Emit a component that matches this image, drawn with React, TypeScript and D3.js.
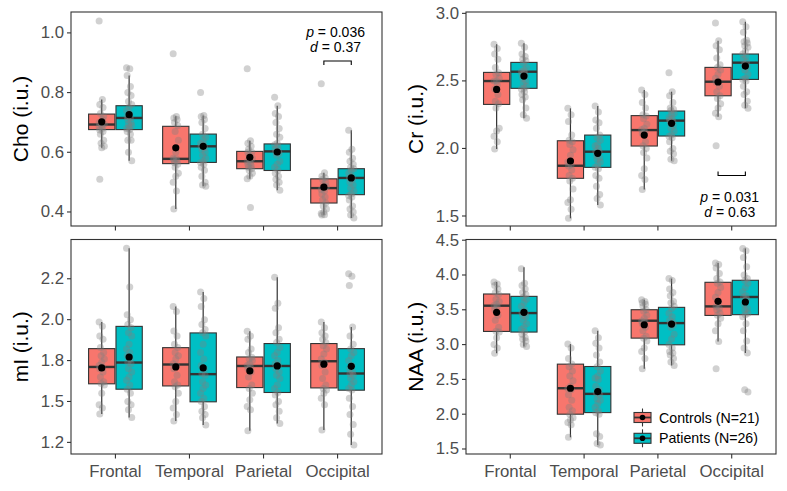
import React from "react";
import * as d3 from "d3";

const regions = ["Frontal", "Temporal", "Parietal", "Occipital"];
const groups = ["Controls (N=21)", "Patients (N=26)"];
const groupColors = ["#F8766D", "#00BFC4"];

// stats per region: [lowerWhisker, q1, median, q3, upperWhisker, mean]
const choControls = [
  [0.615, 0.676, 0.693, 0.728, 0.777, 0.702],
  [0.41, 0.562, 0.578, 0.687, 0.721, 0.615],
  [0.511, 0.545, 0.57, 0.603, 0.639, 0.583],
  [0.391, 0.43, 0.48, 0.511, 0.531, 0.483],
];
const choPatients = [
  [0.572, 0.676, 0.715, 0.756, 0.857, 0.726],
  [0.486, 0.566, 0.62, 0.661, 0.723, 0.62],
  [0.473, 0.539, 0.603, 0.628, 0.756, 0.601],
  [0.38, 0.458, 0.514, 0.545, 0.674, 0.514],
];
const crControls = [
  [1.996, 2.326, 2.499, 2.563, 2.771, 2.437],
  [1.483, 1.779, 1.872, 2.057, 2.297, 1.907],
  [1.697, 2.018, 2.136, 2.243, 2.432, 2.099],
  [2.235, 2.39, 2.494, 2.6, 2.798, 2.492],
];
const crPatients = [
  [2.223, 2.445, 2.568, 2.637, 2.778, 2.536],
  [1.581, 1.86, 1.976, 2.099, 2.314, 1.964],
  [1.909, 2.092, 2.206, 2.277, 2.42, 2.186],
  [2.297, 2.511, 2.635, 2.699, 2.938, 2.61],
];
const miControls = [
  [1.423, 1.608, 1.711, 1.823, 1.986, 1.705],
  [1.38, 1.595, 1.726, 1.829, 2.081, 1.711],
  [1.321, 1.585, 1.717, 1.772, 1.929, 1.687],
  [1.325, 1.583, 1.746, 1.854, 1.986, 1.728],
];
const miPatients = [
  [1.402, 1.575, 1.738, 1.959, 2.437, 1.772],
  [1.356, 1.498, 1.667, 1.919, 2.169, 1.705],
  [1.366, 1.555, 1.717, 1.854, 2.26, 1.717],
  [1.234, 1.569, 1.671, 1.823, 1.955, 1.715],
];
const naaControls = [
  [2.877, 3.189, 3.559, 3.727, 3.9, 3.463],
  [1.668, 2.0, 2.373, 2.719, 3.007, 2.373],
  [2.652, 3.093, 3.343, 3.501, 3.645, 3.285],
  [3.045, 3.419, 3.549, 3.895, 4.174, 3.621],
];
const naaPatients = [
  [2.973, 3.18, 3.453, 3.693, 4.111, 3.463],
  [1.557, 2.023, 2.292, 2.685, 3.199, 2.325],
  [2.7, 2.997, 3.309, 3.535, 3.948, 3.295],
  [2.878, 3.43, 3.684, 3.924, 4.38, 3.612],
];

// individual subject values per region
const choControlsPts = [
  [1.04, 0.777, 0.76, 0.75, 0.73, 0.72, 0.7, 0.695, 0.69, 0.685, 0.68, 0.675, 0.67, 0.66, 0.64, 0.63, 0.62, 0.615, 0.7, 0.71, 0.51],
  [0.93, 0.72, 0.715, 0.71, 0.7, 0.69, 0.67, 0.64, 0.6, 0.58, 0.578, 0.575, 0.57, 0.565, 0.56, 0.55, 0.53, 0.52, 0.5, 0.47, 0.41],
  [0.88, 0.639, 0.63, 0.62, 0.61, 0.6, 0.59, 0.58, 0.575, 0.57, 0.565, 0.56, 0.555, 0.55, 0.545, 0.54, 0.53, 0.52, 0.511, 0.415, 0.6],
  [0.83, 0.531, 0.52, 0.515, 0.51, 0.5, 0.49, 0.485, 0.48, 0.475, 0.47, 0.46, 0.45, 0.44, 0.43, 0.42, 0.41, 0.4, 0.395, 0.391, 0.39],
];
const choPatientsPts = [
  [0.883, 0.88, 0.857, 0.82, 0.8, 0.79, 0.77, 0.76, 0.75, 0.74, 0.73, 0.72, 0.715, 0.71, 0.7, 0.695, 0.69, 0.685, 0.68, 0.676, 0.67, 0.66, 0.64, 0.64, 0.6, 0.572],
  [0.8, 0.723, 0.72, 0.71, 0.7, 0.68, 0.66, 0.65, 0.64, 0.63, 0.625, 0.62, 0.615, 0.61, 0.6, 0.59, 0.58, 0.57, 0.566, 0.56, 0.55, 0.54, 0.52, 0.5, 0.49, 0.486],
  [0.784, 0.756, 0.73, 0.72, 0.7, 0.68, 0.66, 0.65, 0.63, 0.625, 0.62, 0.61, 0.605, 0.6, 0.595, 0.59, 0.57, 0.56, 0.55, 0.54, 0.53, 0.52, 0.51, 0.5, 0.49, 0.473],
  [0.674, 0.61, 0.6, 0.58, 0.57, 0.56, 0.55, 0.545, 0.54, 0.53, 0.52, 0.515, 0.51, 0.5, 0.49, 0.48, 0.47, 0.46, 0.455, 0.45, 0.44, 0.42, 0.41, 0.4, 0.39, 0.38],
];
const crControlsPts = [
  [2.771, 2.74, 2.7, 2.66, 2.6, 2.56, 2.55, 2.52, 2.5, 2.5, 2.47, 2.44, 2.4, 2.35, 2.33, 2.3, 2.15, 2.13, 2.09, 2.05, 1.996],
  [2.297, 2.25, 2.2, 2.1, 2.06, 2.05, 2.03, 1.99, 1.95, 1.9, 1.88, 1.87, 1.84, 1.8, 1.78, 1.76, 1.7, 1.62, 1.6, 1.55, 1.483],
  [2.432, 2.4, 2.34, 2.3, 2.25, 2.24, 2.22, 2.18, 2.15, 2.14, 2.12, 2.11, 2.05, 2.02, 2.0, 1.97, 1.93, 1.85, 1.8, 1.77, 1.697],
  [2.928, 2.798, 2.76, 2.73, 2.67, 2.62, 2.6, 2.58, 2.55, 2.52, 2.5, 2.49, 2.46, 2.42, 2.39, 2.37, 2.33, 2.3, 2.26, 2.235, 2.02],
];
const crPatientsPts = [
  [2.778, 2.75, 2.7, 2.68, 2.66, 2.65, 2.63, 2.6, 2.58, 2.57, 2.56, 2.55, 2.54, 2.52, 2.5, 2.48, 2.46, 2.445, 2.44, 2.42, 2.4, 2.38, 2.36, 2.3, 2.25, 2.223],
  [2.314, 2.27, 2.21, 2.19, 2.15, 2.1, 2.08, 2.06, 2.03, 2.02, 2.0, 1.98, 1.975, 1.95, 1.93, 1.92, 1.9, 1.88, 1.86, 1.85, 1.8, 1.78, 1.72, 1.66, 1.63, 1.581],
  [2.561, 2.42, 2.39, 2.34, 2.3, 2.29, 2.28, 2.26, 2.25, 2.23, 2.22, 2.21, 2.2, 2.19, 2.17, 2.15, 2.13, 2.1, 2.09, 2.08, 2.05, 2.0, 1.98, 1.96, 1.92, 1.909],
  [2.938, 2.9, 2.86, 2.8, 2.79, 2.78, 2.76, 2.75, 2.72, 2.7, 2.68, 2.66, 2.64, 2.62, 2.6, 2.58, 2.55, 2.52, 2.51, 2.5, 2.46, 2.42, 2.4, 2.35, 2.32, 2.297],
];
const miControlsPts = [
  [1.986, 1.96, 1.9, 1.88, 1.83, 1.8, 1.78, 1.76, 1.74, 1.72, 1.71, 1.7, 1.68, 1.65, 1.62, 1.61, 1.6, 1.55, 1.48, 1.46, 1.423],
  [2.081, 2.05, 1.93, 1.9, 1.85, 1.83, 1.8, 1.78, 1.76, 1.73, 1.72, 1.7, 1.66, 1.62, 1.6, 1.59, 1.55, 1.5, 1.46, 1.42, 1.38],
  [1.929, 1.9, 1.88, 1.82, 1.8, 1.77, 1.76, 1.75, 1.73, 1.72, 1.71, 1.7, 1.68, 1.65, 1.6, 1.58, 1.55, 1.51, 1.47, 1.45, 1.321],
  [1.986, 1.95, 1.92, 1.9, 1.88, 1.86, 1.84, 1.82, 1.79, 1.76, 1.74, 1.72, 1.68, 1.64, 1.6, 1.58, 1.57, 1.55, 1.52, 1.48, 1.325],
];
const miPatientsPts = [
  [2.437, 2.2, 2.03, 2.0, 1.97, 1.95, 1.92, 1.9, 1.85, 1.82, 1.8, 1.78, 1.76, 1.74, 1.73, 1.7, 1.68, 1.65, 1.63, 1.6, 1.575, 1.55, 1.5, 1.48, 1.45, 1.402],
  [2.169, 2.13, 2.08, 2.0, 1.97, 1.94, 1.92, 1.9, 1.85, 1.8, 1.76, 1.72, 1.7, 1.67, 1.66, 1.62, 1.6, 1.58, 1.55, 1.52, 1.5, 1.47, 1.44, 1.42, 1.4, 1.356],
  [2.26, 2.1, 2.07, 1.95, 1.92, 1.88, 1.86, 1.83, 1.8, 1.78, 1.75, 1.73, 1.72, 1.7, 1.68, 1.66, 1.64, 1.6, 1.58, 1.555, 1.54, 1.5, 1.48, 1.44, 1.4, 1.366],
  [2.28, 2.266, 2.209, 1.955, 1.9, 1.85, 1.82, 1.8, 1.78, 1.75, 1.72, 1.7, 1.68, 1.67, 1.66, 1.64, 1.62, 1.6, 1.58, 1.57, 1.52, 1.47, 1.42, 1.36, 1.3, 1.234],
];
const naaControlsPts = [
  [3.9, 3.87, 3.85, 3.8, 3.75, 3.72, 3.65, 3.62, 3.58, 3.56, 3.55, 3.5, 3.42, 3.35, 3.25, 3.19, 3.18, 3.1, 3.0, 2.95, 2.877],
  [3.007, 2.95, 2.8, 2.72, 2.68, 2.62, 2.55, 2.48, 2.4, 2.37, 2.35, 2.28, 2.2, 2.1, 2.05, 2.0, 1.95, 1.92, 1.88, 1.85, 1.668],
  [3.645, 3.62, 3.6, 3.58, 3.55, 3.5, 3.48, 3.42, 3.38, 3.34, 3.33, 3.3, 3.25, 3.2, 3.12, 3.09, 3.05, 2.95, 2.9, 2.8, 2.652],
  [4.174, 4.15, 4.1, 4.02, 3.95, 3.9, 3.88, 3.82, 3.75, 3.68, 3.6, 3.55, 3.52, 3.5, 3.45, 3.42, 3.38, 3.3, 3.2, 3.045, 2.652],
];
const naaPatientsPts = [
  [4.09, 3.88, 3.85, 3.8, 3.75, 3.72, 3.68, 3.65, 3.6, 3.55, 3.5, 3.46, 3.45, 3.42, 3.4, 3.35, 3.3, 3.25, 3.22, 3.18, 3.15, 3.1, 3.08, 3.05, 3.0, 2.973],
  [3.199, 3.1, 3.02, 2.95, 2.85, 2.75, 2.68, 2.62, 2.55, 2.52, 2.5, 2.4, 2.35, 2.3, 2.28, 2.22, 2.2, 2.15, 2.1, 2.05, 2.02, 2.0, 1.72, 1.68, 1.58, 1.557],
  [3.948, 3.92, 3.8, 3.75, 3.7, 3.62, 3.6, 3.55, 3.52, 3.45, 3.4, 3.35, 3.32, 3.3, 3.28, 3.25, 3.15, 3.08, 3.0, 2.95, 2.9, 2.88, 2.85, 2.8, 2.75, 2.7],
  [4.38, 4.35, 4.25, 4.12, 4.0, 3.95, 3.92, 3.88, 3.82, 3.76, 3.7, 3.68, 3.65, 3.58, 3.52, 3.5, 3.45, 3.43, 3.4, 3.3, 3.2, 3.05, 2.95, 2.878, 2.35, 2.32],
];

const choTicks = [0.4, 0.6, 0.8, 1.0];
const choTickLabels = ["0.4", "0.6", "0.8", "1.0"];
const crTicks = [1.5, 2.0, 2.5, 3.0];
const crTickLabels = ["1.5", "2.0", "2.5", "3.0"];
const miTicks = [1.25, 1.5, 1.75, 2.0, 2.25];
const miTickLabels = ["1.2", "1.5", "1.8", "2.0", "2.2"];
const naaTicks = [1.5, 2.0, 2.5, 3.0, 3.5, 4.0, 4.5];
const naaTickLabels = ["1.5", "2.0", "2.5", "3.0", "3.5", "4.0", "4.5"];

const FONT = "'Liberation Sans', Arial, Helvetica, sans-serif";

const panels = [
  { title: "Cho (i.u.)", x: 71, y: 12, w: 311, h: 214, domain: [0.353, 1.07], ticks: choTicks, labels: choTickLabels, stats: [choControls, choPatients], pts: [choControlsPts, choPatientsPts], xLabels: false },
  { title: "Cr (i.u.)", x: 466, y: 12, w: 310, h: 214, domain: [1.426, 3.01], ticks: crTicks, labels: crTickLabels, stats: [crControls, crPatients], pts: [crControlsPts, crPatientsPts], xLabels: false },
  { title: "mI (i.u.)", x: 71, y: 239.5, w: 311, h: 214.5, domain: [1.179, 2.49], ticks: miTicks, labels: miTickLabels, stats: [miControls, miPatients], pts: [miControlsPts, miPatientsPts], xLabels: true },
  { title: "NAA (i.u.)", x: 466, y: 239.5, w: 310, h: 214.5, domain: [1.428, 4.51], ticks: naaTicks, labels: naaTickLabels, stats: [naaControls, naaPatients], pts: [naaControlsPts, naaPatientsPts], xLabels: true },
];

const jitter = (i: number) => (((i * 5) % 9) - 4) * 0.65;

function Panel({ p }: { p: any }) {
  const x = d3.scalePoint<string>().domain(regions).range([p.x, p.x + p.w]).padding(0.6);
  const y = d3.scaleLinear().domain(p.domain).range([p.y + p.h, p.y]);
  const step = x.step();
  const off = step * 0.185;
  const bw = step * 0.355;
  const bottom = p.y + p.h;
  return (
    <g>
      {regions.map((r, ri) =>
        groups.map((g, gi) => {
          const cx = (x(r) as number) + (gi === 0 ? -off : off);
          const [lo, q1, med, q3, hi, mean] = p.stats[gi][ri];
          const pts: number[] = p.pts[gi][ri];
          return (
            <g key={r + g}>
              <line x1={cx} x2={cx} y1={y(hi)} y2={y(q3)} stroke="#333" strokeWidth={1.2} />
              <line x1={cx} x2={cx} y1={y(q1)} y2={y(lo)} stroke="#333" strokeWidth={1.2} />
              <rect x={cx - bw / 2} y={y(q3)} width={bw} height={y(q1) - y(q3)} fill={groupColors[gi]} stroke="#333" strokeWidth={1.1} />
              <line x1={cx - bw / 2} x2={cx + bw / 2} y1={y(med)} y2={y(med)} stroke="#333" strokeWidth={2.4} />
              {pts.map((v, i) => (
                <circle key={i} cx={cx + jitter(i)} cy={y(v)} r={3.5} fill="#808080" fillOpacity={0.36} />
              ))}
              <circle cx={cx} cy={y(mean)} r={3.6} fill="#000" />
            </g>
          );
        })
      )}
      <rect x={p.x} y={p.y} width={p.w} height={p.h} fill="none" stroke="#333" strokeWidth={1.1} />
      {p.ticks.map((t: number, i: number) => (
        <g key={t}>
          <line x1={p.x - 4} x2={p.x} y1={y(t)} y2={y(t)} stroke="#333" strokeWidth={1.1} />
          <text x={p.x - 7} y={y(t)} textAnchor="end" dominantBaseline="central" fontSize={16.8} fill="#4D4D4D" fontFamily={FONT}>
            {p.labels[i]}
          </text>
        </g>
      ))}
      {regions.map((r) => (
        <g key={r}>
          <line x1={x(r)} x2={x(r)} y1={bottom} y2={bottom + 4.5} stroke="#333" strokeWidth={1.1} />
          {p.xLabels && (
            <text x={x(r)} y={bottom + 23} textAnchor="middle" fontSize={16.8} fill="#4D4D4D" fontFamily={FONT}>
              {r}
            </text>
          )}
        </g>
      ))}
      <text
        transform={`translate(${p.x - 51},${p.y + p.h / 2}) rotate(-90)`}
        textAnchor="middle"
        dominantBaseline="central"
        fontSize={21}
        fill="#000"
        fontFamily={FONT}
      >
        {p.title}
      </text>
    </g>
  );
}

function Bracket({ p, region, yVal, up, lines, textY }: any) {
  const x = d3.scalePoint<string>().domain(regions).range([p.x, p.x + p.w]).padding(0.6);
  const y = d3.scaleLinear().domain(p.domain).range([p.y + p.h, p.y]);
  const step = x.step();
  const off = step * 0.185;
  const c = x(region) as number;
  const by = y(yVal);
  const leg = up ? -4 : 4;
  return (
    <g>
      <path d={`M${c - off},${by + leg}V${by}H${c + off}V${by + leg}`} fill="none" stroke="#000" strokeWidth={1.1} />
      {lines.map((l: any, i: number) => (
        <text key={i} x={c - 2} y={textY[i]} textAnchor="middle" dominantBaseline="central" fontSize={14} fill="#000" fontFamily={FONT}>
          <tspan fontStyle="italic">{l[0]}</tspan>
          {l[1]}
        </text>
      ))}
    </g>
  );
}

function Legend() {
  const kx = 634;
  const kw = 17;
  const rows = [417.5, 438.3];
  return (
    <g>
      {groups.map((g, i) => {
        const cy = rows[i];
        const cx = kx + kw / 2;
        return (
          <g key={g}>
            <line x1={cx} x2={cx} y1={cy - 9} y2={cy + 9} stroke="#333" strokeWidth={1.1} />
            <rect x={kx} y={cy - 5} width={kw} height={10} fill={groupColors[i]} stroke="#333" strokeWidth={1.1} />
            <line x1={kx} x2={kx + kw} y1={cy} y2={cy} stroke="#333" strokeWidth={1.8} />
            <circle cx={cx} cy={cy} r={2.8} fill="#000" />
            <text x={659} y={cy} dominantBaseline="central" fontSize={14.2} fill="#000" fontFamily={FONT}>
              {g}
            </text>
          </g>
        );
      })}
    </g>
  );
}

export default function App() {
  return (
    <div style={{ position: "fixed", left: 0, top: 0 }}>
      <svg width={787} height={491} style={{ display: "block", background: "#fff" }}>
        <rect width={787} height={491} fill="#fff" />
        {panels.map((p) => (
          <Panel key={p.title} p={p} />
        ))}
        <Bracket p={panels[0]} region="Occipital" yVal={0.906} up={false} lines={[["p", " = 0.036"], ["d", " = 0.37"]]} textY={[31.7, 46.7]} />
        <Bracket p={panels[1]} region="Occipital" yVal={1.8} up={true} lines={[["p", " = 0.031"], ["d", " = 0.63"]]} textY={[196.7, 211.7]} />
        <Legend />
      </svg>
    </div>
  );
}
